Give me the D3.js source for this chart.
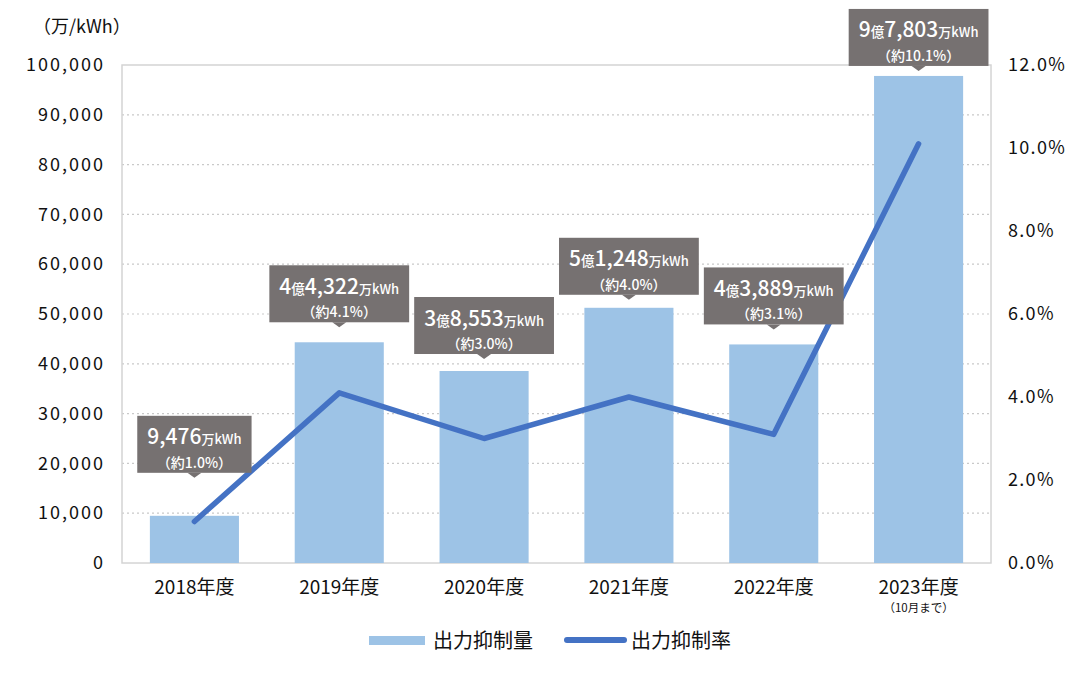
<!DOCTYPE html>
<html><head><meta charset="utf-8">
<script src="https://cdn.jsdelivr.net/npm/d3@7"></script>
<style>
body{margin:0;background:#fff;}
text{font-family:"Noto Sans CJK JP","Noto Sans",sans-serif;}
</style></head>
<body><svg id="c" width="1080" height="677"></svg>
<script>
const categories = ["2018年度","2019年度","2020年度","2021年度","2022年度","2023年度"];
const subLabels = ["","","","","","（10月まで）"];
const volume = [9476, 44322, 38553, 51248, 43889, 97803];   // 万kWh
const rate = [1.0, 4.1, 3.0, 4.0, 3.1, 10.1];               // %
const rateLabels = ["約1.0%","約4.1%","約3.0%","約4.0%","約3.1%","約10.1%"];
const leftTicks = [0,10000,20000,30000,40000,50000,60000,70000,80000,90000,100000];
const rightTicks = [0,2,4,6,8,10,12];
const unitLabel = "（万/kWh）";
const legendNames = ["出力抑制量","出力抑制率"];
// layout: gap between label-box pointer and bar top
const labelGap = [38,15,12,8,15,5];

const svg = d3.select("#c");
const L=122, R=991, T=65, B=563;
const x = d3.scaleBand().domain(categories).range([L,R]).paddingInner(0.385).paddingOuter(0.1925);
const y = d3.scaleLinear().domain([0,100000]).range([B,T]);
const y2 = d3.scaleLinear().domain([0,12]).range([B,T]);
const barColor="#9DC3E6", lineColor="#4472C4", boxColor="#767171";

// gridlines
svg.append("g").selectAll("line").data(leftTicks.filter(d=>d>0&&d<100000)).join("line")
  .attr("x1",L).attr("x2",R).attr("y1",d=>y(d)).attr("y2",d=>y(d))
  .attr("stroke","#c9c9c9").attr("stroke-width",1.2).attr("stroke-dasharray","2,3");

// frame
svg.append("rect").attr("x",L).attr("y",T).attr("width",R-L).attr("height",B-T)
  .attr("fill","none").attr("stroke","#d4d4d4").attr("stroke-width",1.5);

// bars
svg.append("g").selectAll("rect").data(volume).join("rect")
  .attr("x",(d,i)=>x(categories[i])).attr("width",x.bandwidth())
  .attr("y",d=>y(d)).attr("height",d=>B-y(d)).attr("fill",barColor);

// left axis
const fmt = d3.format(",");
const ax = svg.append("g").attr("transform",`translate(${L-17},0)`)
  .call(d3.axisLeft(y).tickValues(leftTicks).tickSize(0).tickPadding(0).tickFormat(d=>fmt(d)));
ax.select(".domain").remove();
ax.selectAll("text").attr("font-size",18).attr("fill","#111").attr("letter-spacing",2);

// right axis
const ar = svg.append("g").attr("transform",`translate(${R+17},0)`)
  .call(d3.axisRight(y2).tickValues(rightTicks).tickSize(0).tickPadding(0).tickFormat(d=>d.toFixed(1)+"%"));
ar.select(".domain").remove();
ar.selectAll("text").attr("font-size",18).attr("fill","#111").attr("letter-spacing",1.3);

// unit label
svg.append("text").attr("x",33).attr("y",33).attr("font-size",18).attr("fill","#111").text(unitLabel);

// x labels
const cx = c=>x(c)+x.bandwidth()/2;
svg.append("g").selectAll("text").data(categories).join("text")
  .attr("x",d=>cx(d)).attr("y",594).attr("text-anchor","middle").attr("font-size",19).attr("fill","#111").text(d=>d);
svg.append("g").selectAll("text").data(subLabels).join("text")
  .attr("x",(d,i)=>cx(categories[i])).attr("y",612).attr("text-anchor","middle").attr("font-size",11.5).attr("fill","#111").text(d=>d);

// line
const line = d3.line().x((d,i)=>cx(categories[i])).y(d=>y2(d));
svg.append("path").datum(rate).attr("d",line).attr("fill","none")
  .attr("stroke",lineColor).attr("stroke-width",5.5).attr("stroke-linecap","round").attr("stroke-linejoin","round");

// labels
const lg = svg.append("g");
volume.forEach((v,i)=>{
  const c = cx(categories[i]);
  const tip = y(v) - labelGap[i];
  const boxB = tip-5, boxT = boxB-57;
  const g = lg.append("g");
  const rect = g.append("rect").attr("fill",boxColor);
  g.append("path").attr("d",`M${c-7},${boxB} L${c},${tip} L${c+7},${boxB} Z`).attr("fill",boxColor);
  const t1 = g.append("text").attr("x",c).attr("y",boxT+28.5).attr("text-anchor","middle").attr("fill","#fff").attr("font-weight",500);
  const oku = Math.floor(v/10000), rest = v%10000;
  if(oku>0){
    t1.append("tspan").attr("font-size",21).text(oku);
    t1.append("tspan").attr("font-size",13.5).text("億");
    t1.append("tspan").attr("font-size",21).text(fmt(rest));
  } else {
    t1.append("tspan").attr("font-size",21).text(fmt(rest));
  }
  t1.append("tspan").attr("font-size",13).text("万kWh");
  g.append("text").attr("x",c).attr("y",boxT+52).attr("text-anchor","middle").attr("fill","#fff")
    .attr("font-size",14).attr("font-weight",500).text("（"+rateLabels[i]+"）");
  const w = t1.node().getBBox().width + 20;
  rect.attr("x",c-w/2).attr("y",boxT).attr("width",w).attr("height",boxB-boxT);
});

// legend
const leg = svg.append("g");
leg.append("rect").attr("x",369).attr("y",636).attr("width",56).attr("height",9).attr("fill",barColor);
leg.append("text").attr("x",433).attr("y",648).attr("font-size",20).attr("fill","#111").text(legendNames[0]);
leg.append("line").attr("x1",567).attr("x2",624).attr("y1",640).attr("y2",640).attr("stroke",lineColor).attr("stroke-width",6).attr("stroke-linecap","round");
leg.append("text").attr("x",631).attr("y",648).attr("font-size",20).attr("fill","#111").text(legendNames[1]);
</script></body></html>
